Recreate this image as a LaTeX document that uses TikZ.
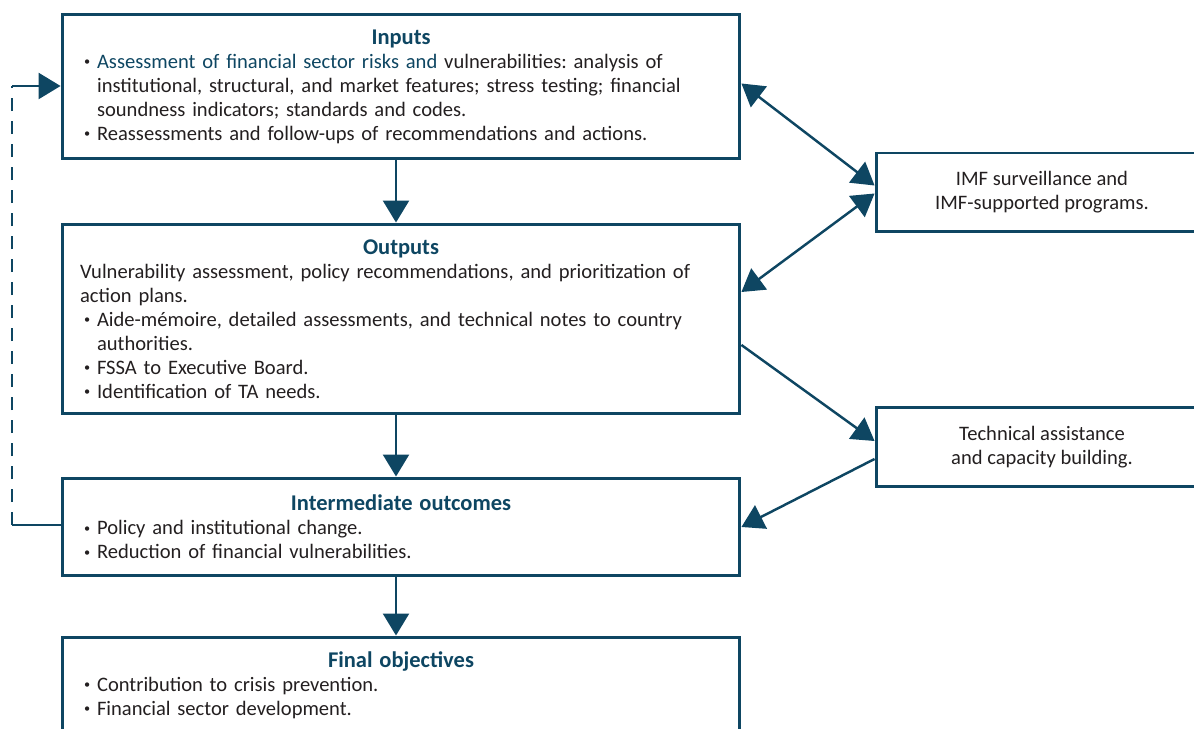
\documentclass[tikz,border=0pt]{standalone}
\usepackage{fontspec}
\setmainfont{Carlito}
\usetikzlibrary{arrows.meta}
\definecolor{imfblue}{RGB}{14,70,98}
\definecolor{bodytext}{RGB}{35,31,32}
\setlength{\parindent}{0pt}
\frenchspacing
\newcommand{\bodysize}{\fontsize{11.7pt}{13.66pt}\selectfont}
\newcommand{\boxtitle}[1]{{\centering\fontsize{12.8pt}{13.66pt}\selectfont\bfseries\color{imfblue}#1\par}}
\newcommand{\bul}{\par\hangindent=0.34cm\hangafter=1\makebox[0.34cm][l]{\hspace{0.08cm}\raisebox{0.25ex}{\scriptsize\textbullet}}}
\newcommand{\nl}{\hfil\break}

\begin{document}
\begin{tikzpicture}[x=0.02cm, y=-0.02cm,
  stage/.style={draw=imfblue, line width=1.7pt, text=bodytext, text width=12.84cm, inner xsep=0.36cm, inner ysep=0.1cm, align=left, font=\bodysize},
  side/.style={draw=imfblue, line width=1.7pt, text=bodytext, minimum width=6.64cm, minimum height=1.58cm, align=center, font=\bodysize},
  flow/.style={draw=imfblue, line width=1.4pt, -{Triangle[width=0.52cm,length=0.44cm]}},
  both/.style={flow, {Triangle[width=0.52cm,length=0.44cm]}-{Triangle[width=0.52cm,length=0.44cm]}},
  loopline/.style={draw=imfblue, line width=1.6pt},
  ]
  \useasboundingbox (0,0) rectangle (1194,729);
  \node[stage, minimum height=2.9cm] (inputs) at (401,86.5) {\boxtitle{Inputs}
    \bul{\color{imfblue}Assessment of financial sector risks and} vulnerabilities: analysis of\nl
    institutional, structural, and market features; stress testing; financial\nl
    soundness indicators; standards and codes.
    \bul Reassessments and follow-ups of recommendations and actions.};
  \node[stage, minimum height=3.8cm] (outputs) at (401,319) {\boxtitle{Outputs}
    Vulnerability assessment, policy recommendations, and prioritization of\nl
    action plans.
    \bul Aide-m\'emoire, detailed assessments, and technical notes to country\nl
    authorities.
    \bul FSSA to Executive Board.
    \bul Identification of TA needs.};
  \node[stage, minimum height=1.96cm] (inter) at (401,527) {\boxtitle{Intermediate outcomes}
    \bul Policy and institutional change.
    \bul Reduction of financial vulnerabilities.};
  \node[stage, minimum height=1.92cm] (final) at (401,685) {\boxtitle{Final objectives}
    \bul Contribution to crisis prevention.
    \bul Financial sector development.};
  \node[side] (imf) at (1042,192.5) {IMF surveillance and\\IMF-supported programs.};
  \node[side] (ta) at (1042,447) {Technical assistance\\and capacity building.};
  \draw[flow] ([xshift=-0.1cm]inputs.south) -- ([xshift=-0.1cm]outputs.north);
  \draw[flow] ([xshift=-0.1cm]outputs.south) -- ([xshift=-0.1cm]inter.north);
  \draw[flow] ([xshift=-0.1cm]inter.south) -- ([xshift=-0.1cm]final.north);
  \draw[both] ([yshift=0.06cm]inputs.east) -- ([yshift=0.14cm]imf.west);
  \draw[both] ([yshift=-0.02cm]imf.west) -- ([yshift=0.54cm]outputs.east);
  \draw[flow] ([yshift=-0.52cm]outputs.east) -- ([yshift=0.12cm]ta.west);
  \draw[flow] ([yshift=-0.24cm]ta.west) -- (inter.east);
  \coordinate (fb low) at (12,525);
  \coordinate (fb high) at (12,86);
  \draw[loopline] (inter.west |- fb low) -- (fb low);
  \draw[loopline, dash pattern=on 0.26cm off 0.2cm] (fb low) -- (fb high);
  \draw[flow] (fb high) -- (inputs.west |- fb high);
\end{tikzpicture}
\end{document}
